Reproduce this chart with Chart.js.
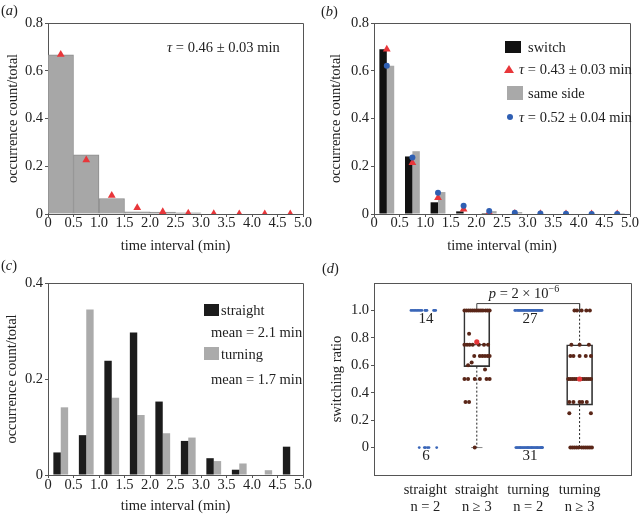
<!DOCTYPE html>
<html><head><meta charset="utf-8">
<script src="https://cdn.jsdelivr.net/npm/chart.js@4.4.1/dist/chart.umd.min.js"></script>
<style>
body{margin:0;background:#fff;}
#wrap{position:relative;width:640px;height:515px;overflow:hidden;font-family:"Liberation Serif","Times New Roman",serif;color:#222;}
canvas{position:absolute;}
.t{position:absolute;white-space:nowrap;line-height:20px;height:20px;font-size:14.5px;}
.c{text-align:center;}
.sq{position:absolute;}
i{font-style:italic;}
sup{font-size:10px;line-height:0;}
</style></head>
<body><div id="wrap">
<canvas id="ca" width="320" height="256" style="left:0;top:0"></canvas>
<canvas id="cb" width="320" height="256" style="left:320px;top:0"></canvas>
<canvas id="cc" width="320" height="259" style="left:0;top:256px"></canvas>
<canvas id="cd" width="320" height="259" style="left:320px;top:256px"></canvas>

<div class="t" style="left:1px;top:0px">(<i>a</i>)</div>
<div class="t" style="left:321px;top:1px">(<i>b</i>)</div>
<div class="t" style="left:1px;top:255px">(<i>c</i>)</div>
<div class="t" style="left:322px;top:258px">(<i>d</i>)</div>

<div class="t" style="left:167px;top:37px"><i>τ</i> = 0.46 ± 0.03 min</div>

<div class="sq" style="left:505px;top:41px;width:16px;height:12px;background:#111"></div>
<div class="t" style="left:528px;top:37px">switch</div>
<div class="sq" style="left:504px;top:65px;width:0;height:0;border-left:5px solid transparent;border-right:5px solid transparent;border-bottom:8px solid #e8363a"></div>
<div class="t" style="left:519px;top:59px"><i>τ</i> = 0.43 ± 0.03 min</div>
<div class="sq" style="left:507px;top:86px;width:16px;height:14px;background:#a9a9a9"></div>
<div class="t" style="left:528px;top:83px">same side</div>
<div class="sq" style="left:507px;top:114px;width:6px;height:6px;border-radius:3px;background:#2f5fb3"></div>
<div class="t" style="left:519px;top:107px"><i>τ</i> = 0.52 ± 0.04 min</div>

<div class="sq" style="left:204px;top:304px;width:15px;height:12px;background:#1c1c1c"></div>
<div class="t" style="left:221px;top:300px">straight</div>
<div class="t" style="left:211px;top:322px">mean = 2.1 min</div>
<div class="sq" style="left:204px;top:347px;width:15px;height:13px;background:#ababab"></div>
<div class="t" style="left:221px;top:344px">turning</div>
<div class="t" style="left:211px;top:369px">mean = 1.7 min</div>

<div class="t c" style="left:464px;width:120px;top:283px"><i>p</i> = 2 × 10<sup>−6</sup></div>
<div class="t c" id="n1" style="left:406px;width:40px;top:308px;font-size:15px"></div>
<div class="t c" id="n2" style="left:406px;width:40px;top:445px;font-size:15px"></div>
<div class="t c" id="n3" style="left:510px;width:40px;top:308px;font-size:15px"></div>
<div class="t c" id="n4" style="left:510px;width:40px;top:445px;font-size:15px"></div>
</div>
<script>
// ---------- data ----------
const binCenters = [0.25,0.75,1.25,1.75,2.25,2.75,3.25,3.75,4.25,4.75];
const timeTicks = [0,0.5,1,1.5,2,2.5,3,3.5,4,4.5,5];
const yTicksAB = [0,0.2,0.4,0.6,0.8];
const yTicksC = [0,0.2,0.4];
const yTicksD = [0,0.2,0.4,0.6,0.8,1.0];

// (a) all intervals
const aHist = [0.667,0.248,0.065,0.009,0.008,0.005,0,0,0,0];
const aFit  = [0.668,0.226,0.077,0.026,0.009,0.003,0.001,0.0003,0.0001,0];

// (b) switch vs same side
const bSwitch    = [0.690,0.241,0.049,0.011,0.004,0.002,0,0,0,0];
const bSame      = [0.621,0.263,0.092,0,0.012,0.008,0.002,0,0,0.004];
const bSwitchFit = [0.690,0.215,0.068,0.020,0.006,0.002,0.0006,0.0002,0,0];
const bSameFit   = [0.621,0.237,0.089,0.035,0.013,0.005,0.002,0.001,0.0003,0.0001];

// (c) straight vs turning
const cStraight = [0.047,0.083,0.238,0.297,0.153,0.071,0.035,0.011,0,0.059];
const cTurning  = [0.141,0.345,0.161,0.125,0.087,0.078,0.029,0.024,0.010,0];

// (d) switching ratio
const dGroupPos = [1,2,3,4];
const dGroupLabels = [['straight','n = 2'],['straight','n ≥ 3'],['turning','n = 2'],['turning','n ≥ 3']];
// n = 2 groups: jitter offsets of observations at ratio 1 and ratio 0
const dStraight2Ones  = [-0.28,-0.25,-0.22,-0.19,-0.16,-0.13,-0.10,-0.07,-0.01,0.01,0.03,0.16,0.18,0.20];
const dStraight2Zeros = [-0.12,-0.02,0.00,0.04,0.07,0.22];
const dTurning2Ones   = [-0.26,-0.24,-0.21,-0.19,-0.17,-0.15,-0.13,-0.11,-0.09,-0.07,-0.05,-0.03,-0.01,0.01,0.03,0.05,0.07,0.09,0.11,0.13,0.15,0.17,0.19,0.21,0.23,0.25,0.27];
const dTurning2Zeros  = [-0.24,-0.22,-0.20,-0.18,-0.16,-0.15,-0.13,-0.11,-0.09,-0.07,-0.05,-0.03,-0.01,0.00,0.02,0.04,0.06,0.07,0.09,0.11,0.13,0.15,0.17,0.18,0.20,0.22,0.24,0.25,0.26,0.27,0.28];
// n >= 3 groups: [ratio, jitter offset]
const dStraight3 = [[1,-0.24],[1,-0.2],[1,-0.16],[1,-0.12],[1,-0.08],[1,-0.04],[1,0],[1,0.04],[1,0.08],[1,0.12],[1,0.17],[1,0.21],[1,0.25],
  [0.83,-0.15],[0.75,-0.24],[0.75,-0.19],[0.75,-0.14],[0.75,-0.08],[0.75,0.04],[0.75,0.14],[0.75,0.22],
  [0.667,-0.05],[0.667,0.06],[0.667,0.11],[0.667,0.16],[0.667,0.21],[0.667,0.25],[0.62,-0.1],[0.6,-0.17],[0.57,0.16],
  [0.5,-0.24],[0.5,-0.17],[0.5,-0.04],[0.5,0.06],[0.5,0.19],[0.5,0.25],[0.333,-0.22],[0.333,-0.15],[0,-0.04]];
const dTurning3 = [[1,-0.1],[1,-0.05],[1,0.04],[1,0.13],[1,0.2],
  [0.75,-0.16],[0.75,0],[0.75,0.18],[0.667,-0.18],[0.667,-0.12],[0.667,0],[0.667,0.12],[0.667,0.22],
  [0.5,-0.22],[0.5,-0.18],[0.5,-0.14],[0.5,-0.1],[0.5,-0.06],[0.5,0.02],[0.5,0.06],[0.5,0.1],[0.5,0.14],[0.5,0.18],[0.5,0.22],
  [0.333,-0.2],[0.333,-0.12],[0.333,0],[0.333,0.05],[0.333,0.14],[0.25,-0.2],[0.25,0.22],
  [0,-0.18],[0,-0.14],[0,-0.1],[0,-0.06],[0,-0.02],[0,0.04],[0,0.08],[0,0.12],[0,0.16],[0,0.2],[0,0.24]];
// box statistics for n >= 3 groups
const dBoxPos = [2,4];
const dQ1   = [0.59,0.31];
const dMed  = [0.75,0.50];
const dQ3   = [1.00,0.75];
const dLo   = [0,0];
const dHi   = [1,1];
const dMean = [0.77,0.50];
const dBracketY = 1.05;

// ---------- styles ----------
const FONT = '"Liberation Serif","Times New Roman",serif';
Chart.defaults.font.family = FONT;
Chart.defaults.font.size = 14.5;
Chart.defaults.color = '#222';
const AX = '#555';
const BOX_HALF = 0.25, CAP_HALF = 0.11;

document.getElementById('n1').textContent = dStraight2Ones.length;
document.getElementById('n2').textContent = dStraight2Zeros.length;
document.getElementById('n3').textContent = dTurning2Ones.length;
document.getElementById('n4').textContent = dTurning2Zeros.length;

const framePlugin = {id:'frame', afterDatasetsDraw(chart){
  const {ctx, chartArea:a} = chart;
  ctx.save(); ctx.strokeStyle = AX; ctx.lineWidth = 1;
  ctx.beginPath();
  ctx.moveTo(Math.round(a.left), Math.round(a.top)+0.5);
  ctx.lineTo(Math.round(a.right)+0.5, Math.round(a.top)+0.5);
  ctx.lineTo(Math.round(a.right)+0.5, Math.round(a.bottom));
  ctx.stroke(); ctx.restore();
}};

const fmt = v => v === 0 ? '0' : v.toFixed(1);
const xy = (xs, ys) => xs.map((x,i)=>({x, y: ys[i]}));

function opts(o){
  return {
    responsive:false, animation:false, devicePixelRatio:1,
    layout:{padding:o.pad},
    plugins:{legend:{display:false}, tooltip:{enabled:false}},
    scales:{
      x:{type:'linear', min:0, max:5, offset:false,
        afterBuildTicks: ax => { ax.ticks = (o.xt || timeTicks).map(v=>({value:v})); },
        afterFit: s => { s.height = o.xh; },
        grid:{display:true, drawOnChartArea:false, drawTicks:o.xticks!==false, tickLength:o.xticks===false?0:3, color:AX, offset:false},
        border:{display:true, color:AX},
        ticks:{maxRotation:0, minRotation:0, autoSkip:false, padding:o.xpad, callback:o.xcb || fmt, font:{size:14.5}},
        title:{display:!!o.xtitle, text:o.xtitle, padding:{top:0,bottom:o.xtp}, font:{size:14.5}}
      },
      y:{type:'linear', min:o.ymin, max:o.ymax,
        afterBuildTicks: ax => { ax.ticks = o.yt.map(v=>({value:v})); },
        afterFit: s => { s.width = o.yw; },
        grid:{display:true, drawOnChartArea:false, drawTicks:true, tickLength:3, color:AX},
        border:{display:true, color:AX},
        ticks:{padding:2, callback:fmt, font:{size:14.5}},
        title:{display:true, text:o.ytitle, padding:{top:o.ytp,bottom:0}, font:{size:14.5}}
      }
    }
  };
}

// (a)
new Chart(document.getElementById('ca'), {
  type:'bar',
  data:{datasets:[
    {type:'line', data:xy(binCenters,aFit), showLine:false, pointStyle:'triangle', pointRadius:4.5, pointBackgroundColor:'#e8363a', pointBorderWidth:0, order:0},
    {data:xy(binCenters,aHist), backgroundColor:'#a7a7a7', borderColor:'#8c8c8c', borderWidth:1, categoryPercentage:1, barPercentage:1, order:1}
  ]},
  options:opts({pad:{left:0,right:17,top:23,bottom:0}, xh:42, yw:48, ymin:0, ymax:0.8, yt:yTicksAB, xpad:-3, xtitle:'time interval (min)', xtp:0.8, ytitle:'occurrence count/total', ytp:4.3}),
  plugins:[framePlugin]
});

// (b)
new Chart(document.getElementById('cb'), {
  type:'bar',
  data:{datasets:[
    {data:xy(binCenters,bSwitch), backgroundColor:'#111', categoryPercentage:0.58, barPercentage:1, order:2},
    {data:xy(binCenters,bSame), backgroundColor:'#a9a9a9', categoryPercentage:0.58, barPercentage:1, order:2},
    {type:'line', data:xy(binCenters,bSwitchFit), showLine:false, pointStyle:'triangle', pointRadius:4.5, pointBackgroundColor:'#e8363a', pointBorderWidth:0, order:1},
    {type:'line', data:xy(binCenters,bSameFit), showLine:false, pointStyle:'circle', pointRadius:3, pointBackgroundColor:'#2f5fb3', pointBorderWidth:0, order:0}
  ]},
  options:opts({pad:{left:0,right:10,top:23,bottom:0}, xh:42, yw:54, ymin:0, ymax:0.8, yt:yTicksAB, xpad:-3, xtitle:'time interval (min)', xtp:0.8, ytitle:'occurrence count/total', ytp:7.3}),
  plugins:[framePlugin]
});

// (c)
new Chart(document.getElementById('cc'), {
  type:'bar',
  data:{datasets:[
    {data:xy(binCenters,cStraight), backgroundColor:'#1c1c1c', categoryPercentage:0.58, barPercentage:1},
    {data:xy(binCenters,cTurning), backgroundColor:'#ababab', categoryPercentage:0.58, barPercentage:1}
  ]},
  options:opts({pad:{left:0,right:17,top:27,bottom:0}, xh:40, yw:48, ymin:0, ymax:0.4, yt:yTicksC, xpad:-2, xtitle:'time interval (min)', xtp:0, ytitle:'occurrence count/total', ytp:3.3}),
  plugins:[framePlugin]
});

// (d)
const jit = (pos, offs, y) => offs.map(dx => ({x:pos+dx, y}));
const jit2 = (pos, pairs) => pairs.map(([y,dx]) => ({x:pos+dx, y}));
const medianPts = [], whiskerPts = [], capPts = [];
dBoxPos.forEach((p,i) => {
  medianPts.push({x:p-BOX_HALF,y:dMed[i]},{x:p+BOX_HALF,y:dMed[i]},{x:p,y:null});
  whiskerPts.push({x:p,y:dQ1[i]},{x:p,y:dLo[i]},{x:p,y:null},{x:p,y:dQ3[i]},{x:p,y:dHi[i]},{x:p,y:null});
  capPts.push({x:p-CAP_HALF,y:dLo[i]},{x:p+CAP_HALF,y:dLo[i]},{x:p,y:null});
});
const bracketPts = [{x:dBoxPos[0],y:dHi[0]},{x:dBoxPos[0],y:dBracketY},{x:dBoxPos[1],y:dBracketY},{x:dBoxPos[1],y:dHi[1]}];
const lineDs = (data, color, extra) => Object.assign({type:'line', data, borderColor:color, borderWidth:1, pointRadius:0, spanGaps:false, fill:false}, extra||{});
const dotDs = (data, color, r, order) => ({type:'line', data, showLine:false, pointRadius:r, pointBackgroundColor:color, pointBorderWidth:0, order});

new Chart(document.getElementById('cd'), {
  type:'bar',
  data:{datasets:[
    {data: dBoxPos.map((p,i)=>({x:p, y:[dQ1[i], dQ3[i]]})), backgroundColor:'rgba(0,0,0,0)', borderColor:'#333', borderWidth:1, borderSkipped:false, barThickness:26, order:5},
    lineDs(capPts, '#888', {order:5}),
    lineDs(whiskerPts, '#222', {borderDash:[2,2], order:4}),
    lineDs(medianPts, '#222', {order:4}),
    lineDs(bracketPts, '#444', {order:4}),
    dotDs(jit(dGroupPos[0], dStraight2Ones, 1), '#3a66b8', 1.4, 1),
    dotDs(jit(dGroupPos[0], dStraight2Zeros, 0), '#3a66b8', 1.4, 1),
    dotDs(jit(dGroupPos[2], dTurning2Ones, 1), '#3a66b8', 1.4, 1),
    dotDs(jit(dGroupPos[2], dTurning2Zeros, 0), '#3a66b8', 1.4, 1),
    dotDs(jit2(dGroupPos[1], dStraight3), '#5a2618', 2, 1),
    dotDs(jit2(dGroupPos[3], dTurning3), '#5a2618', 2, 1),
    dotDs(dBoxPos.map((p,i)=>({x:p, y:dMean[i]})), '#e8363a', 2.6, 0)
  ]},
  options:opts({pad:{left:0,right:9,top:27,bottom:0}, xh:40, yw:54, ymin:-0.2, ymax:1.2, yt:yTicksD, xt:dGroupPos, xticks:false, xpad:6,
    xcb: v => dGroupLabels[dGroupPos.indexOf(v)], xtitle:'', xtp:0, ytitle:'switching ratio', ytp:8.3}),
  plugins:[framePlugin]
});
</script>
</body></html>
